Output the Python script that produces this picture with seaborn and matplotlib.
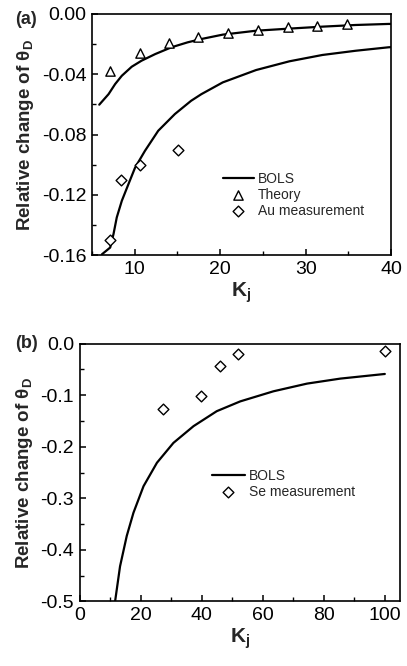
import matplotlib
matplotlib.use('Agg')
import matplotlib.pyplot as plt
from matplotlib.ticker import MultipleLocator, FormatStrFormatter
import seaborn as sns

# ------------------------------------------------------------
# Values
# ------------------------------------------------------------
# (a) BOLS curves (upper: follows theory, lower: follows Au data)
k_bols_up = [5.85, 6.94, 7.71, 8.49, 9.65, 10.8, 12.4, 14.3, 16.2, 17.8,
             20.3, 24.2, 28.1, 31.96, 35.85, 39.7, 40.0]
bols_up = [-0.0602, -0.0532, -0.0465, -0.0410, -0.0350, -0.0310, -0.0266, -0.0221,
           -0.0188, -0.0166, -0.0137, -0.0111, -0.0097, -0.0084, -0.0073, -0.0066, -0.0066]
k_bols_low = [6.16, 7.13, 7.52, 7.9, 8.49, 9.26, 10.04, 11.2, 12.75, 14.7, 16.6, 17.8,
              20.3, 24.2, 28.1, 31.96, 35.85, 39.7, 40.0]
bols_low = [-0.1595, -0.155, -0.146, -0.135, -0.124, -0.113, -0.102, -0.0908, -0.0775,
            -0.0664, -0.0576, -0.0532, -0.0454, -0.0372, -0.0314, -0.0272, -0.0244,
            -0.0221, -0.0220]

k_theory = [7.1, 10.6, 14.0, 17.4, 20.9, 24.4, 27.9, 31.3, 34.8]
theory = [-0.038, -0.026, -0.019, -0.015, -0.0124, -0.0106, -0.0088, -0.0078, -0.0069]

k_au = [7.1, 8.45, 10.6, 15.05]
au = [-0.150, -0.110, -0.100, -0.090]

# (b) BOLS curve and Se measurement
k_bols_b = [11.6, 13.2, 15.4, 17.6, 20.9, 25.3, 30.7, 37.3, 44.9, 52.6,
            63.5, 74.5, 85.4, 100.0]
bols_b = [-0.499, -0.432, -0.373, -0.328, -0.2765, -0.231, -0.1925, -0.160, -0.131,
          -0.112, -0.0924, -0.0775, -0.0678, -0.0588]

k_se = [27.4, 39.8, 46.0, 51.8, 99.9]
se = [-0.127, -0.102, -0.044, -0.021, -0.015]

# ------------------------------------------------------------
# Style
# ------------------------------------------------------------
sns.set_style('ticks')
plt.rcParams['font.family'] = ['Liberation Sans', 'DejaVu Sans']
plt.rcParams['mathtext.fontset'] = 'custom'
plt.rcParams['mathtext.rm'] = 'Liberation Sans'
plt.rcParams['mathtext.it'] = 'Liberation Sans'
plt.rcParams['mathtext.bf'] = 'Liberation Sans:bold'
plt.rcParams['axes.unicode_minus'] = False
plt.rcParams['axes.linewidth'] = 1.2
plt.rcParams['axes.edgecolor'] = 'black'
plt.rcParams['xtick.direction'] = 'in'
plt.rcParams['ytick.direction'] = 'in'
plt.rcParams['xtick.color'] = 'black'
plt.rcParams['ytick.color'] = 'black'

fig = plt.figure(figsize=(4.07, 6.66), dpi=100)
ax1 = fig.add_axes([0.226, 0.617, 0.735, 0.362])
ax2 = fig.add_axes([0.196, 0.097, 0.787, 0.387])

line_kw = dict(color='black', linewidth=1.6)
mark_kw = dict(color='white', edgecolor='black', linewidth=1.0, zorder=3)

# ---- panel (a) ----
sns.lineplot(x=k_bols_up, y=bols_up, ax=ax1, label='BOLS', **line_kw)
sns.lineplot(x=k_bols_low, y=bols_low, ax=ax1, **line_kw)
sns.scatterplot(x=k_theory, y=theory, marker='^', s=45, ax=ax1, label='Theory', **mark_kw)
sns.scatterplot(x=k_au, y=au, marker='D', s=30, ax=ax1, label='Au measurement', **mark_kw)

ax1.set_xlim(5, 40)
ax1.set_ylim(-0.16, 0.0)
ax1.xaxis.set_major_locator(MultipleLocator(10))
ax1.xaxis.set_minor_locator(MultipleLocator(5))
ax1.yaxis.set_major_locator(MultipleLocator(0.04))
ax1.yaxis.set_minor_locator(MultipleLocator(0.02))
ax1.yaxis.set_major_formatter(FormatStrFormatter('%.2f'))
ax1.legend(loc='upper left', bbox_to_anchor=(0.548, 0.742), bbox_transform=fig.transFigure,
           frameon=False, fontsize=10, handlelength=2.2, handletextpad=0.3,
           labelspacing=0.15, borderpad=0, borderaxespad=0)
ax1.text(0.036, 0.983, '(a)', transform=fig.transFigure, fontsize=13,
         fontweight='bold', va='top', ha='left')

# ---- panel (b) ----
sns.lineplot(x=k_bols_b, y=bols_b, ax=ax2, label='BOLS', **line_kw)
sns.scatterplot(x=k_se, y=se, marker='D', s=30, ax=ax2, label='Se measurement', **mark_kw)

ax2.set_xlim(0, 105)
ax2.set_ylim(-0.5, 0.0)
ax2.xaxis.set_major_locator(MultipleLocator(20))
ax2.xaxis.set_minor_locator(MultipleLocator(10))
ax2.yaxis.set_major_locator(MultipleLocator(0.1))
ax2.yaxis.set_minor_locator(MultipleLocator(0.05))
ax2.yaxis.set_major_formatter(FormatStrFormatter('%.1f'))
ax2.legend(loc='upper left', bbox_to_anchor=(0.52, 0.296), bbox_transform=fig.transFigure,
           frameon=False, fontsize=10, handlelength=2.4, handletextpad=0.3,
           labelspacing=0.15, borderpad=0, borderaxespad=0)
ax2.text(0.036, 0.497, '(b)', transform=fig.transFigure, fontsize=13,
         fontweight='bold', va='top', ha='left')

for ax in (ax1, ax2):
    for side in ('top', 'right', 'left', 'bottom'):
        ax.spines[side].set_visible(True)
    ax.tick_params(which='major', length=4.5, width=1.1, labelsize=14, pad=4)
    ax.tick_params(which='minor', length=3, width=1.0)
    ax.set_xlabel(r'K$_\mathregular{j}$', fontsize=15, fontweight='bold', labelpad=2)
    ax.set_ylabel(r'Relative change of $\mathregular{\theta_D}$', fontsize=13.5,
                  fontweight='bold', labelpad=4)

plt.savefig('out.png', dpi=100)
